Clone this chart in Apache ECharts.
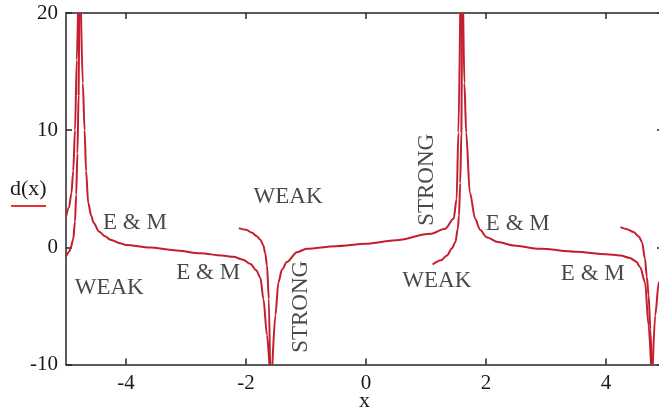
<!DOCTYPE html>
<html lang="en">
<head>
<meta charset="UTF-8">
<title>d(x)</title>
<script src="https://cdn.jsdelivr.net/npm/echarts@6/dist/echarts.min.js"></script>
<style>html,body{margin:0;padding:0;overflow:hidden;background:#fff;}</style>
</head>
<body>
<div id="main" style="width:663px;height:410px;"></div>
<script type="text/javascript">
// tick positions
var xTicks = [-4, -2, 0, 2, 4];
var yTicks = [-10, 0, 10, 20];

// curve branches, [x, d(x)]
var strongLeft = [[-5, 2.6], [-4.95, 3.4], [-4.91, 4.6], [-4.88, 6.5], [-4.85, 10], [-4.82, 16], [-4.8, 20]];
var weakLeft = [[-5, -0.78], [-4.95, -0.4], [-4.92, 0], [-4.88, 0.7], [-4.85, 2.2], [-4.83, 4.5], [-4.81, 8], [-4.79, 13], [-4.78, 20]];
var emLeft = [[-4.75, 20], [-4.72, 14], [-4.69, 10], [-4.665, 6.5], [-4.63, 3.8], [-4.58, 2.7], [-4.54, 2.1], [-4.45, 1.35],
  [-4.35, 0.95], [-4.26, 0.65], [-4.1, 0.35], [-4.0, 0.2], [-3.6, -0.02], [-3.2, -0.24], [-2.76, -0.5], [-2.4, -0.7],
  [-2.21, -0.81], [-2.05, -1.05], [-1.93, -1.41], [-1.83, -1.95], [-1.76, -2.6], [-1.71, -4.4], [-1.65, -7.5], [-1.61, -10]];
var weakMidLeft = [[-2.12, 1.64], [-2.0, 1.5], [-1.9, 1.25], [-1.82, 0.95], [-1.76, 0.65], [-1.71, 0.15], [-1.68, -0.5],
  [-1.65, -1.55], [-1.62, -4.4], [-1.6, -10]];
var strongMid = [[-1.56, -10], [-1.51, -5.8], [-1.46, -3.0], [-1.4, -1.9], [-1.32, -1.26], [-1.15, -0.41], [-0.99, -0.13],
  [-0.5, 0.1], [0, 0.3], [0.5, 0.6], [1.07, 1.15], [1.32, 1.58], [1.46, 2.43], [1.51, 4.1], [1.54, 9.8], [1.57, 20]];
var weakMidRight = [[1.11, -1.47], [1.25, -1.1], [1.35, -0.7], [1.43, -0.1], [1.49, 0.44], [1.53, 1.6], [1.55, 2.7],
  [1.57, 5.5], [1.59, 9.8], [1.6, 20]];
var emRight = [[1.62, 20], [1.64, 14], [1.67, 9.8], [1.73, 4.7], [1.82, 2.43], [1.9, 1.5], [2.01, 0.87], [2.2, 0.45],
  [2.46, 0.15], [2.9, -0.13], [3.5, -0.38], [4.0, -0.58], [4.24, -0.7], [4.4, -0.9], [4.5, -1.2], [4.57, -1.7],
  [4.65, -2.97], [4.71, -6.67], [4.75, -10]];
var weakRight = [[4.24, 1.72], [4.35, 1.55], [4.46, 1.3], [4.55, 0.9], [4.6, 0.44], [4.65, -0.98], [4.68, -2.5],
  [4.71, -4.1], [4.74, -7], [4.76, -10]];
var strongRight = [[4.78, -10], [4.82, -5.8], [4.88, -2.97], [4.95, -1.8]];

// annotations: text, x, y, rotated?
var noteText = ['E & M', 'WEAK', 'E & M', 'WEAK', 'STRONG', 'STRONG', 'WEAK', 'E & M', 'E & M'];
var noteX = [-3.85, -4.28, -2.63, -1.3, -1.08, 1.02, 1.18, 2.53, 3.78];
var noteY = [2.1, -3.46, -2.18, 4.31, -5.08, 5.76, -2.86, 2.0, -2.26];
var noteRot = [0, 0, 0, 0, 90, 90, 0, 0, 0];

var branches = [strongLeft, weakLeft, emLeft, weakMidLeft, strongMid, weakMidRight, emRight, weakRight, strongRight];

var serif = '"Liberation Serif", "Times New Roman", serif';
var axisCol = '#262626';
var textCol = '#1a1a1a';
var curveCol = '#c41e2c';

var myChart = echarts.init(document.getElementById('main'));

var series = branches.map(function (b) {
  return {
    type: 'line',
    data: b,
    showSymbol: false,
    clip: true,
    smooth: 0.3,
    smoothMonotone: 'x',
    lineStyle: { color: curveCol, width: 2 },
    z: 3
  };
});

var notes = [];
for (var i = 0; i < noteText.length; i++) {
  notes.push({
    name: noteText[i],
    value: [noteX[i], noteY[i]],
    label: { rotate: noteRot[i] }
  });
}
series.push({
  type: 'scatter',
  data: notes,
  symbolSize: 0,
  z: 5,
  label: {
    show: true,
    position: 'inside',
    formatter: '{b}',
    fontFamily: serif,
    fontSize: 23,
    color: textCol
  }
});

var tickStyle = { inside: true, length: 6, lineStyle: { color: axisCol, width: 1.5 } };
var lineStyle = { show: true, onZero: false, lineStyle: { color: axisCol, width: 1.5 } };

myChart.setOption({
  animation: false,
  grid: { left: 66, right: 0, top: 13, bottom: 45.5, containLabel: false, outerBoundsMode: 'none' },
  xAxis: [{
    type: 'value',
    min: -5,
    max: 4.95,
    position: 'bottom',
    axisLine: lineStyle,
    axisTick: Object.assign({ customValues: xTicks }, tickStyle),
    axisLabel: { customValues: xTicks, fontFamily: serif, fontSize: 21, color: textCol, margin: 8 },
    splitLine: { show: false },
    name: 'x',
    nameLocation: 'middle',
    nameGap: 26,
    nameMoveOverlap: false,
    nameTextStyle: { fontFamily: serif, fontSize: 22, color: textCol }
  }, {
    type: 'value',
    min: -5,
    max: 4.95,
    position: 'top',
    axisLine: lineStyle,
    axisTick: Object.assign({ customValues: xTicks }, tickStyle),
    axisLabel: { show: false },
    splitLine: { show: false }
  }],
  yAxis: [{
    type: 'value',
    min: -10,
    max: 20,
    interval: 10,
    position: 'left',
    axisLine: lineStyle,
    axisTick: tickStyle,
    axisLabel: { fontFamily: serif, fontSize: 21, color: textCol, margin: 8 },
    splitLine: { show: false }
  }, {
    type: 'value',
    min: -10,
    max: 20,
    interval: 10,
    position: 'right',
    axisLine: lineStyle,
    axisTick: tickStyle,
    axisLabel: { show: false },
    splitLine: { show: false }
  }],
  graphic: [{
    type: 'text',
    left: 10,
    top: 178,
    style: { text: 'd(x)', font: '22px ' + serif, fill: textCol }
  }, {
    type: 'line',
    shape: { x1: 11, y1: 206, x2: 46, y2: 206 },
    style: { stroke: '#e8332b', lineWidth: 2 }
  }],
  series: series
});
</script>
</body>
</html>
